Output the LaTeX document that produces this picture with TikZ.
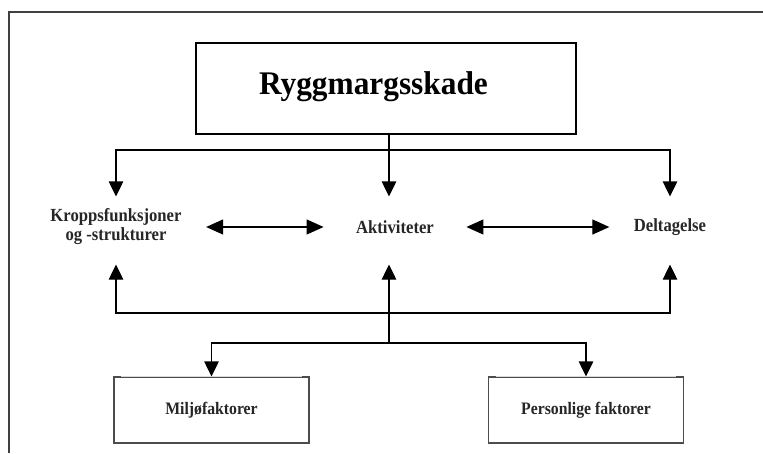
\documentclass[tikz,border=0pt]{standalone}
\usepackage{fontspec}
\setmainfont{Liberation Serif}
\newfontfamily\narrowfont[FakeStretch=0.9]{Liberation Serif}
\newfontfamily\titlefont[FakeStretch=0.95]{Liberation Serif}
\usetikzlibrary{positioning,arrows.meta}

\begin{document}
\begin{tikzpicture}[x=1pt,y=-1pt,
    line width=1.2pt,
    arr/.style={-{Triangle[width=14.5pt,length=15pt]}},
    dblarr/.style={{Triangle[width=15pt,length=17pt]}-{Triangle[width=15pt,length=17pt]}},
    topbox/.style={draw,line width=1.6pt,minimum width=380pt,minimum height=91pt,inner sep=0pt,
      font=\titlefont\fontsize{33}{36}\selectfont\bfseries},
    factor/.style={minimum height=60pt,inner ysep=0pt,inner xsep=24pt,align=center,
      font=\narrowfont\fontsize{18.5}{19}\selectfont\bfseries,text=black!85},
    lowbox/.style={draw=black!70,minimum width=195pt,minimum height=66pt,inner sep=0pt,
      font=\narrowfont\fontsize{17.5}{19}\selectfont\bfseries,text=black!85}]
  \useasboundingbox (0,0) rectangle (763,453);
  % frame
  \draw[black!75,line width=1.5pt] (9,453) -- (9,12) -- (763,12);

  \node[topbox] (skade) at (386,88.5) {\raisebox{11pt}{Ryggmargsskade}\hspace*{25pt}};

  \node[factor] (kropp) at (116,227) {Kroppsfunksjoner\\og -strukturer};
  \node[factor,inner xsep=32pt] (akt) at (395,227) {Aktiviteter};
  \node[factor] (delt) at (670,227) {Deltagelse};

  \node[lowbox] (miljo) at (211.5,410) {Miljøfaktorer};
  \node[lowbox] (person) at (586,410) {Personlige faktorer};
  \foreach \b in {miljo,person}
    \draw[black!15,line width=1.4pt] ([xshift=8pt]\b.north west) -- ([xshift=-8pt]\b.north east);

  \coordinate (topjoin) at (389,150);
  \coordinate (midjoin) at (389,313);
  \coordinate (lowjoin) at (389,343);

  % down from the injury
  \draw[arr] (topjoin |- skade.south) -- (topjoin |- akt.north);
  \draw[arr] (topjoin) -| (kropp.north);
  \draw[arr] (topjoin) -| (delt.north);

  \draw[dblarr] (kropp) -- (akt);
  \draw[dblarr] (akt) -- (delt);

  % up from the factors
  \draw[arr,shorten >=7pt] (midjoin) -| (kropp.south);
  \draw[arr,shorten >=7pt] (midjoin) -| (delt.south);
  \draw[arr,shorten >=7pt] (lowjoin) -- (lowjoin |- akt.south);
  \draw[arr] (lowjoin) -| (miljo.north);
  \draw[arr] (lowjoin) -| (person.north);
\end{tikzpicture}
\end{document}
